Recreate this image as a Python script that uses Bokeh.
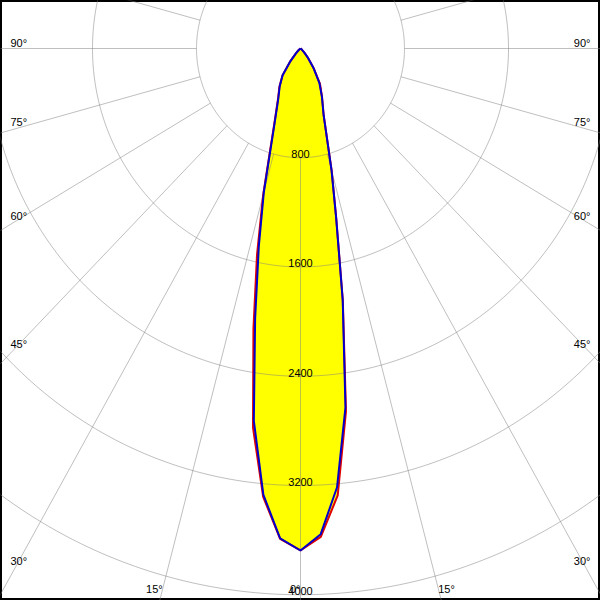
import numpy as np
from bokeh.plotting import figure
from bokeh.models import Range1d, ColumnDataSource
from bokeh.core.properties import value
from bokeh.embed import file_html
from bokeh.resources import INLINE

# ---- data (gamma angle in degrees, luminous intensity in cd) ----
gamma = [-90, -70, -60, -50, -45, -40, -35, -30, -25, -20, -15, -12.5, -10, -7.5, -5, -2.5,
         0, 2.5, 5, 7.5, 10, 12.5, 15, 20, 25, 30, 35, 40, 45, 50, 60, 70, 90]
c90_270 = [0, 0, 5, 20, 50, 120, 240, 320, 404, 583, 1090, 1480, 2010, 2750, 3280, 3590,
           3676, 3560, 3225, 2650, 1870, 1265, 922, 520, 390, 290, 175, 90, 40, 15, 3, 0, 0]
c0_180 = [0, 0, 5, 20, 50, 120, 242, 325, 410, 592, 1110, 1545, 2085, 2800, 3295, 3595,
          3676, 3580, 3285, 2680, 1875, 1268, 926, 522, 392, 300, 178, 91, 40, 15, 3, 0, 0]
ring_values = [800, 1600, 2400, 3200, 4000, 4800]
ring_labels = ["800", "1600", "2400", "3200", "4000"]
spoke_step = 15
side_angles = [90, 75, 60, 45, 30]
bottom_angles = [15, 0]

# ---- geometry (reference pixel scale) ----
SX = 0.13      # px per cd horizontally
SY = 0.13656   # px per cd vertically
CY = 48        # centre y in px
W = 600


def to_data(px, py):
    return (px - 300) / SX, (CY - py) / SY


x0, _ = to_data(0, 0)
x1, _ = to_data(600, 0)
_, ytop = to_data(0, 0)
_, ybot = to_data(0, 600)

p = figure(width=W, height=W, x_range=Range1d(x0, x1), y_range=Range1d(ybot, ytop),
           output_backend="svg", toolbar_location=None, min_border=0,
           x_axis_location=None, y_axis_location=None)
p.grid.visible = False
p.outline_line_color = "black"
p.outline_line_width = 3
p.background_fill_color = "white"
p.border_fill_color = "white"


def curve_xy(g, I):
    g = np.radians(np.array(g, dtype=float))
    I = np.array(I, dtype=float)
    return list(I * np.sin(g)), list(-I * np.cos(g))


bx, by = curve_xy(gamma, c90_270)
rx, ry = curve_xy(gamma, c0_180)

# fills
p.patch(rx, ry, fill_color="#ffff00", line_color=None)
p.patch(bx, by, fill_color="#ffff00", line_color=None)

# grid rings
t = np.linspace(0, 2 * np.pi, 721)
xs = [list(r * np.sin(t)) for r in ring_values]
ys = [list(-r * np.cos(t)) for r in ring_values]
p.multi_line(xs, ys, line_color="#808080", line_alpha=0.5, line_width=1)

# spokes
angs = np.radians(np.arange(0, 360, spoke_step))
r0, r1 = ring_values[0], 9000
p.segment(x0=list(r0 * np.sin(angs)), y0=list(-r0 * np.cos(angs)),
          x1=list(r1 * np.sin(angs)), y1=list(-r1 * np.cos(angs)),
          line_color="#808080", line_alpha=0.5, line_width=1)

# curves
p.line(rx, ry, line_color="#e00000", line_width=2)
p.line(bx, by, line_color="#0000cc", line_width=2)

font = value("Liberation Sans")
fs = "11px"

# ring labels
p.text(x=[0] * len(ring_labels), y=[-v for v in ring_values[:len(ring_labels)]], text=ring_labels,
       text_align="center", text_baseline="middle", y_offset=-3.5,
       text_font=font, text_font_size=fs, text_color="black")

# angle labels
lx, ly, lt, la = [], [], [], []
for a in side_angles:
    ar = np.radians(a)
    tt = 282 / (np.sin(ar) * SX)
    nudge = 1 + min(5, 5 * max(0, a - 45) / 30)
    ypx = CY + np.cos(ar) * SY * tt - nudge
    xl, yl = to_data(10, ypx)
    xr, _ = to_data(590, ypx)
    lx += [xl, xr]; ly += [yl, yl]; lt += [f"{a}°", f"{a}°"]; la += ["left", "right"]
for a in bottom_angles:
    ar = np.radians(a)
    tt = 540 / (np.cos(ar) * SY)
    dx = np.sin(ar) * SX * tt
    xl, yl = to_data(300 - dx, 588)
    lx.append(xl); ly.append(yl); lt.append(f"{a}°"); la.append("right")
    if a != 0:
        xr, _ = to_data(300 + dx, 588)
        lx.append(xr); ly.append(yl); lt.append(f"{a}°"); la.append("left")

src = ColumnDataSource(dict(x=lx, y=ly, text=lt, align=la))
p.text(x="x", y="y", text="text", text_align="align", text_baseline="middle", source=src,
       text_font=font, text_font_size=fs, text_color="black")

open("out.html", "w").write(file_html(p, INLINE))
